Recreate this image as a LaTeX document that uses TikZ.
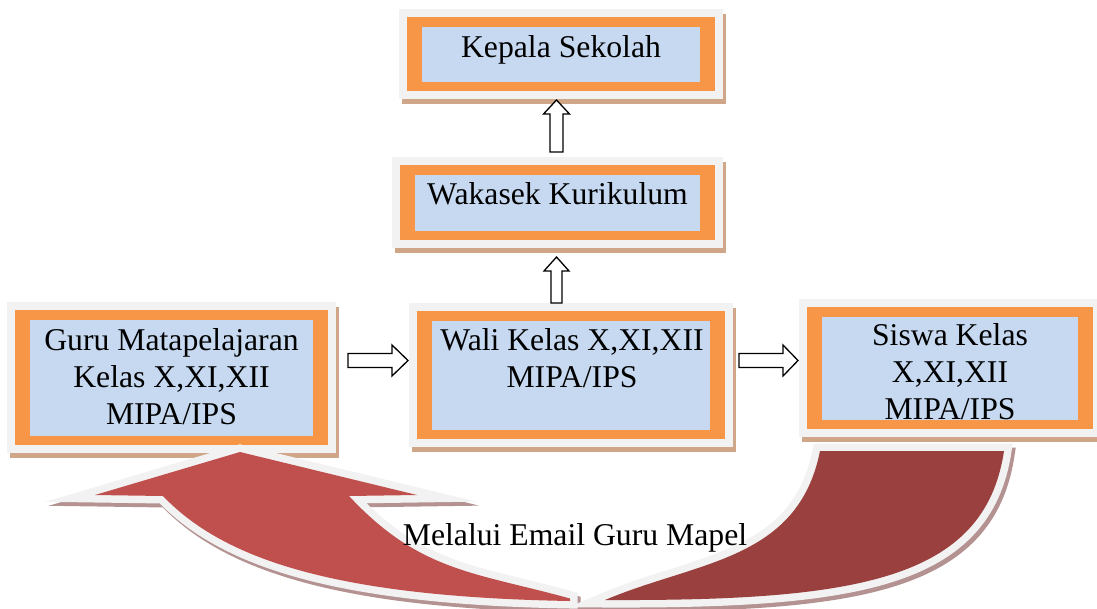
\documentclass[tikz,border=0pt]{standalone}
\usepackage{fontspec}
\setmainfont{Liberation Serif}
\definecolor{boxgray}{HTML}{F2F2F2}
\definecolor{boxorange}{HTML}{F79646}
\definecolor{boxblue}{HTML}{C6D9F1}
\definecolor{boxshadow}{RGB}{208,166,136}
\definecolor{frontred}{HTML}{C0504D}
\definecolor{backred}{RGB}{154,64,62}
\definecolor{arrshadow}{RGB}{180,146,146}
\newcommand\mkbox[4]{%
  \fill[boxshadow] ({#1+3},{#2+5}) rectangle ({#3+3},{#4+5});
  \fill[boxgray] (#1,#2) rectangle (#3,#4);
  \fill[boxorange] ({#1+8},{#2+8}) rectangle ({#3-8},{#4-8});
  \fill[boxblue] ({#1+23},{#2+18}) rectangle ({#3-23},{#4-17});
}
\tikzset{
  txt/.style={font=\fontsize{31.7}{37}\selectfont, align=center, inner sep=0pt, anchor=base},
  blockarrow/.style={draw=black, fill=white, line width=1.3pt, line join=miter},
  frontp/.style={insert path={(240,452) -- (417,495) -- (349,496)
     .. controls (420,572) and (474,572) .. (570,598.5)
     -- (570,601)
     .. controls (340,597) and (225,561) .. (163,496)
     -- (95,495) -- cycle}},
  backp/.style={insert path={(820,451) -- (1004,451)
     .. controls (984.5,581) and (855,601) .. (605,600)
     .. controls (697,561) and (798,561) .. (820,451)
     -- cycle}},
}
\begin{document}
\begin{tikzpicture}[x=1pt,y=-1pt]
\useasboundingbox (0,0) rectangle (1097,608);
\fill[white] (0,0) rectangle (1097,608);
% boxes
\mkbox{399}{9}{723}{99}
\mkbox{392}{157}{723}{248}
\mkbox{7}{302}{336}{453}
\mkbox{409}{303}{733}{447}
\mkbox{799}{299}{1101}{437}
% block arrows
\coordinate (a1) at (556.5,152);
\draw[blockarrow] (a1) ++(-6.5,0) -- ++(0,-38) -- ++(-6.5,0) -- ++(13,-14) -- ++(13,14) -- ++(-6.5,0) -- ++(0,38) -- cycle;
\coordinate (a2) at (556.5,303);
\draw[blockarrow] (a2) ++(-5.5,0) -- ++(0,-32) -- ++(-7,0) -- ++(12.5,-14) -- ++(12.5,14) -- ++(-7,0) -- ++(0,32) -- cycle;
\coordinate (a3) at (348,360.5);
\draw[blockarrow] (a3) ++(0,-7) -- ++(44,0) -- ++(0,-8.5) -- ++(16,15.5) -- ++(-16,15.5) -- ++(0,-8.5) -- ++(-44,0) -- cycle;
\coordinate (a4) at (739,360.5);
\draw[blockarrow] (a4) ++(0,-7) -- ++(44,0) -- ++(0,-8.5) -- ++(15,15.5) -- ++(-15,15.5) -- ++(0,-8.5) -- ++(-44,0) -- cycle;
% curved arrow
\begin{scope}[shift={(3,4)}]
  \fill[arrshadow, draw=arrshadow, line width=15, backp];
  \fill[arrshadow, draw=arrshadow, line width=15, frontp];
\end{scope}
\fill[backred, preaction={draw=boxgray, line width=15}, backp];
\fill[frontred, preaction={draw=boxgray, line width=15}, frontp];
% texts
\node[txt] (kep) at (561,57) {Kepala Sekolah};
\node[txt] (wak) at (557.5,204) {Wakasek Kurikulum};
\node[txt] (guru) at (171.5,424) {Guru Matapelajaran\\Kelas X,XI,XII\\MIPA/IPS};
\node[txt] (wali) at (572,387) {Wali Kelas X,XI,XII\\MIPA/IPS};
\node[txt] (sis) at (950,419) {Siswa Kelas\\X,XI,XII\\MIPA/IPS};
\node[txt] (lbl) at (575,545) {Melalui Email Guru Mapel};
\end{tikzpicture}
\end{document}
